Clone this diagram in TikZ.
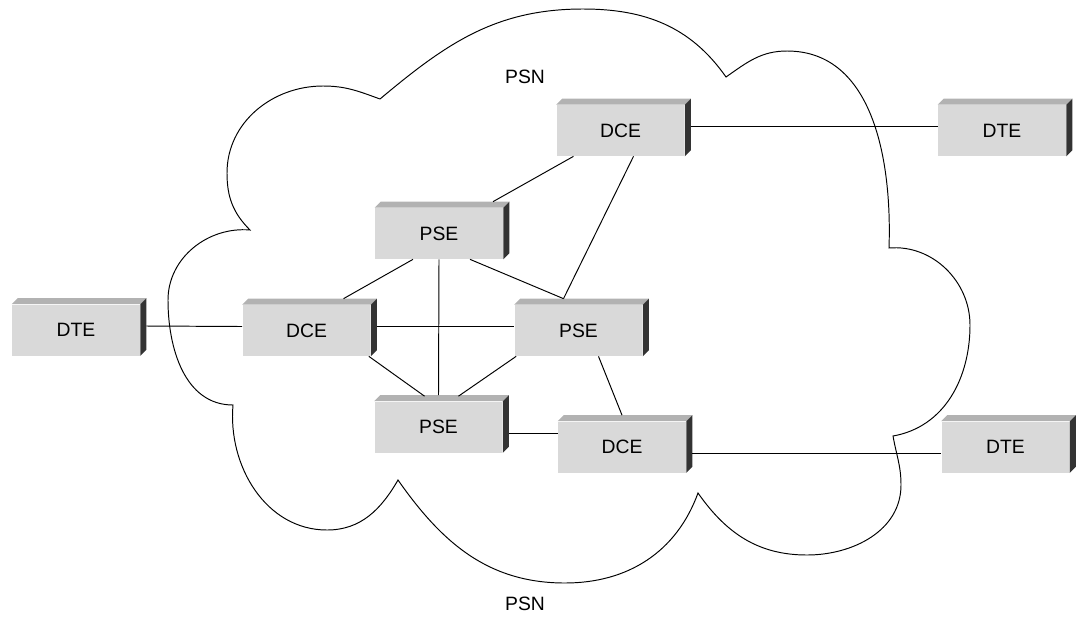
\documentclass[tikz,border=0pt]{standalone}
\usepackage{fontspec}
\setmainfont{Liberation Sans}
\usepackage{tikz}
\usetikzlibrary{calc}
\definecolor{facegray}{RGB}{217,217,217}
\definecolor{topgray}{RGB}{178,178,178}
\definecolor{sidegray}{RGB}{51,51,51}

\tikzset{
  device/.style={fill=facegray, minimum width=2.56cm, minimum height=1.02cm,
    inner sep=0pt, font=\fontsize{11}{13}\selectfont},
  link/.style={draw, line width=0.55pt},
  cloudline/.style={draw, line width=0.55pt},
  label/.style={font=\fontsize{11}{13}\selectfont}
}
\newcommand{\netbox}[3]{%
  \node[device] (#1) at (#2) {#3};
  \fill[topgray] (#1.north west) -- ++(6,6) -- ($(#1.north east)+(6,6)$) -- (#1.north east) -- cycle;
  \fill[sidegray] (#1.north east) -- ++(6,6) -- ($(#1.south east)+(6,6)$) -- (#1.south east) -- cycle;
}

\begin{document}
\begin{tikzpicture}[x=0.02cm, y=0.02cm]
\useasboundingbox (0,0) rectangle (1078,-616);

\path[cloudline] (380,-99) to[out=160,in=0] (323,-86) to[out=180,in=90] (227,-173)
  to[out=-90,in=135] (250,-230)
  to[out=175,in=90] (168,-300) to[out=-90,in=180] (233,-405)
  to[out=-95,in=180] (327,-530) to[out=0,in=-120] (398,-480)
  to[out=-55,in=180] (565,-583) to[out=0,in=-110] (698,-493)
  to[out=-55,in=180] (807,-555) to[out=0,in=-90] (901,-485) to[out=90,in=-80] (893,-436)
  to[out=10,in=-90] (970,-325) to[out=90,in=5] (889,-248)
  to[out=88,in=0] (787,-51) to[out=180,in=35] (726,-77)
  to[out=125,in=0] (583,-9) to[out=180,in=40] (380,-99);

\node[label] (psnTop) at (525,-77) {PSN};
\node[label] (psnBot) at (525,-604) {PSN};

\netbox{dteL}{76,-330}{DTE}
\netbox{dceL}{306.5,-330.5}{DCE}
\netbox{pseT}{439,-233.5}{PSE}
\netbox{pseR}{578.5,-330.5}{PSE}
\netbox{pseB}{438.5,-427}{PSE}
\netbox{dceT}{620.5,-130.5}{DCE}
\netbox{dceB}{622,-447}{DCE}
\netbox{dteT}{1002,-130.5}{DTE}
\netbox{dteB}{1005.5,-447}{DTE}

\path[link] ($(dteL.east)+(6,4)$) -- ($(dceL.west)+(0,4)$);
\path[link] ($(dceL.east)+(6,4)$) -- ($(pseR.west)+(0,4)$);
\path[link] ($(pseT.south)+(-26,0)$) -- ($(dceL.north)+(37,6)$);
\path[link] (pseT.south) -- ($(pseB.north)+(0,6)$);
\path[link] ($(pseT.south)+(31,0)$) -- ($(pseR.north)+(-15,6)$);
\path[link] ($(pseT.north)+(54,6)$) -- ($(dceT.south)+(-47,0)$);
\path[link] ($(dceT.south)+(13,0)$) -- ($(pseR.north)+(-15,6)$);
\path[link] ($(dceT.east)+(6,4)$) -- ($(dteT.west)+(0,4)$);
\path[link] ($(dceL.south east)+(-2,0)$) -- ($(pseB.north)+(-14,5)$);
\path[link] ($(pseR.south west)+(2,0)$) -- ($(pseB.north)+(20,5)$);
\path[link] ($(pseB.east)+(6,-6)$) -- ($(dceB.west)+(0,14)$);
\path[link] ($(pseR.south)+(20,0)$) -- ($(dceB.north)+(0,6)$);
\path[link] ($(dceB.east)+(6,-6)$) -- ($(dteB.west)+(0,-6)$);
\end{tikzpicture}
\end{document}
